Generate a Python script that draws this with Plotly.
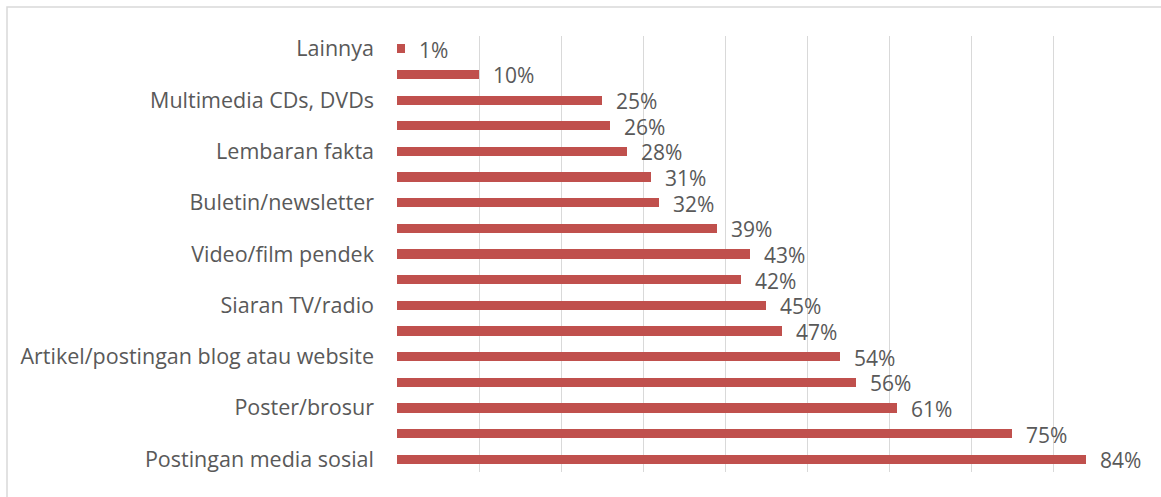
import plotly.graph_objects as go

# Survey results, top to bottom as listed
values = [1, 10, 25, 26, 28, 31, 32, 39, 43, 42, 45, 47, 54, 56, 61, 75, 84]
labels = ["Lainnya", "", "Multimedia CDs, DVDs", "", "Lembaran fakta", "",
          "Buletin/newsletter", "", "Video/film pendek", "", "Siaran TV/radio", "",
          "Artikel/postingan blog atau website", "", "Poster/brosur", "",
          "Postingan media sosial"]
x_ticks = [0, 10, 20, 30, 40, 50, 60, 70, 80, 90]

positions = list(range(len(values)))
shown = [i for i, t in enumerate(labels) if t]

BAR = "#C0504D"
TEXT = "#595959"
GRID = "#D9D9D9"
FONT = "Open Sans"

fig = go.Figure()
fig.add_trace(go.Bar(
    x=values, y=positions, orientation="h",
    marker=dict(color=BAR, line=dict(width=0)),
    width=0.36, hoverinfo="skip",
))

for p, v in zip(positions, values):
    fig.add_annotation(
        x=v, y=p, text=f"{v}%", showarrow=False,
        xanchor="left", yanchor="middle", xshift=12, yshift=-1,
        font=dict(family=FONT, size=21, color=TEXT),
    )

fig.update_layout(
    width=1161, height=497,
    margin=dict(l=397, r=26, t=36, b=25),
    paper_bgcolor="white", plot_bgcolor="white",
    showlegend=False,
    bargap=0,
    xaxis=dict(range=[0, 90], tickvals=x_ticks, showticklabels=False,
               showgrid=True, gridcolor=GRID, gridwidth=1,
               zeroline=False, showline=False, fixedrange=True),
    yaxis=dict(range=[len(values) - 0.5, -0.5],
               tickvals=shown, ticktext=[labels[i] for i in shown],
               showgrid=False, zeroline=False, showline=False,
               ticks="", ticklabelstandoff=22,
               tickfont=dict(family=FONT, size=21.5, color=TEXT),
               fixedrange=True),
    shapes=[dict(type="rect", xref="paper", yref="paper",
                 x0=(7 - 397) / 738, x1=(1180 - 397) / 738,
                 y0=(472 - 520) / 436, y1=(472 - 7) / 436,
                 line=dict(color=GRID, width=1.5), layer="below")],
)

fig.write_html("out.html")
